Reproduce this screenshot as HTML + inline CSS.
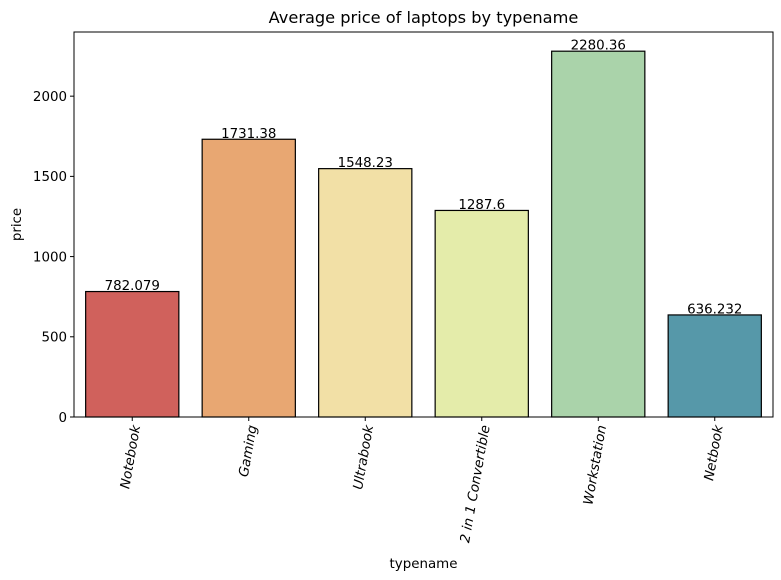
<!DOCTYPE html>
<html><head><meta charset="utf-8"><style>body{margin:0;background:#fff}svg{display:block;font-family:"DejaVu Sans","Liberation Sans",sans-serif}</style></head>
<body>
<svg id="c" width="781" height="580" viewBox="0 0 781 580"></svg>
<script>
const categories=["Notebook","Gaming","Ultrabook","2 in 1 Convertible","Workstation","Netbook"];
const prices=[782.079,1731.38,1548.23,1287.6,2280.36,636.232];
const valueLabels=["782.079","1731.38","1548.23","1287.6","2280.36","636.232"];
const yTicks=[0,500,1000,1500,2000];
const colors=["#d0615c","#e8a772","#f2e0a6","#e4ecaa","#aad3aa","#5698a9"];
const L=74,R=773,T=32,B=417,YMAX=2400;
const ns="http://www.w3.org/2000/svg",svg=document.getElementById('c');
function y(v){return B-(v/YMAX)*(B-T);}
const step=(R-L)/categories.length;
function xc(i){return L+step*(i+0.5);}
function mk(t,a,p){const e=document.createElementNS(ns,t);for(const k in a)e.setAttribute(k,a[k]);(p||svg).appendChild(e);return e;}
let e=mk('text',{x:(L+R)/2,y:23,'text-anchor':'middle','font-size':16.2,fill:'#000'});e.textContent="Average price of laptops by typename";


categories.forEach((c,i)=>{
 const w=step*0.8,x=xc(i)-w/2;
 const r=mk('rect',{x:x,y:y(prices[i]),width:w,height:B-y(prices[i]),fill:colors[i],stroke:'#000','stroke-width':1.2});
 
 
 const t=mk('text',{x:xc(i),y:y(prices[i])-1.5,'text-anchor':'middle','font-size':13.4,fill:'#000'});t.textContent=valueLabels[i];
 
 
 mk('line',{x1:xc(i),x2:xc(i),y1:B,y2:B+4,stroke:'#000'});
 const lx=xc(i)+8,ly=B+9;
 const l=mk('text',{x:lx,y:ly,'text-anchor':'end','font-size':13.4,'font-style':'italic',fill:'#000',transform:`rotate(-80 ${lx} ${ly})`});l.textContent=c;
 
 
});
yTicks.forEach(v=>{
 mk('line',{x1:L-4,x2:L,y1:y(v),y2:y(v),stroke:'#000'});
 const t=mk('text',{x:L-7,y:y(v)+4.8,'text-anchor':'end','font-size':13.4,fill:'#000'});t.textContent=v;
 
 
});
const f=mk('rect',{x:L,y:T,width:R-L,height:B-T,fill:'none',stroke:'#000','stroke-width':1});


e=mk('text',{x:(L+R)/2,y:568,'text-anchor':'middle','font-size':13.4,fill:'#000'});e.textContent="typename";


e=mk('text',{x:21,y:(T+B)/2,'text-anchor':'middle','font-size':13.4,fill:'#000',transform:`rotate(-90 21 ${(T+B)/2})`});e.textContent="price";


</script>
</body></html>
